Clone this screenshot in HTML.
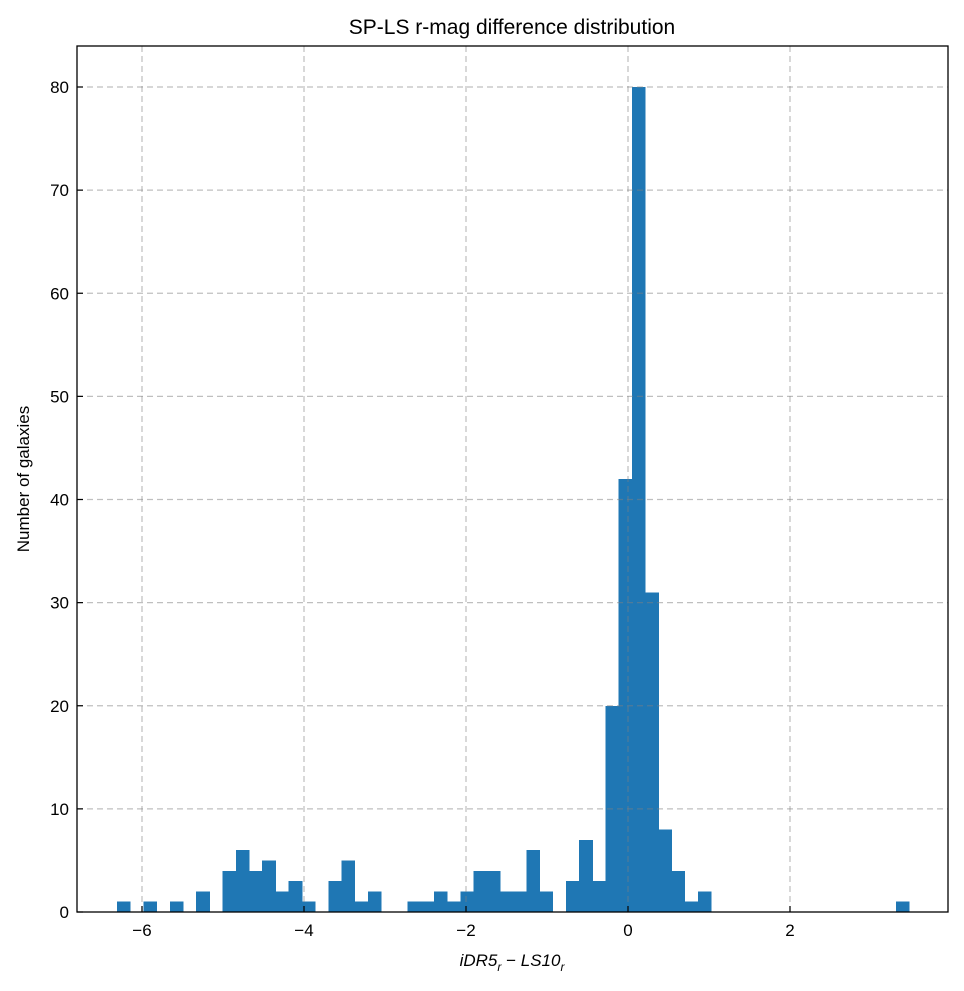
<!DOCTYPE html>
<html><head><meta charset="utf-8"><style>
body{margin:0;background:#fff;}
svg text{font-family:"Liberation Sans","DejaVu Sans",sans-serif;}
</style></head><body>
<svg id="chart" width="964" height="986" xmlns="http://www.w3.org/2000/svg">
<rect width="964" height="986" fill="#fff"/>
<g id="bars" shape-rendering="crispEdges"></g>
<g id="grid"></g>
<g id="axes"></g>
<text x="512" y="34" font-size="21" text-anchor="middle">SP-LS r-mag difference distribution</text>
<text x="512" y="966" font-size="17" text-anchor="middle" font-style="italic">iDR5<tspan font-size="12" dy="5">r</tspan><tspan dy="-5" font-style="normal"> − </tspan>LS10<tspan font-size="12" dy="5">r</tspan></text>
<text transform="translate(29,479) rotate(-90)" font-size="17" text-anchor="middle">Number of galaxies</text>
</svg>
<script>
const binStart = -6.3086;
const binWidth = 0.1630;
const counts = [1,0,1,0,1,0,2,0,4,6,4,5,2,3,1,0,3,5,1,2,0,0,1,1,2,1,2,4,4,2,2,6,2,0,3,7,3,20,42,80,31,8,4,1,2,0,0,0,0,0,0,0,0,0,0,0,0,0,0,1];
const xTicks = [-6,-4,-2,0,2];
const yTicks = [0,10,20,30,40,50,60,70,80];
const L=77,R=948,T=46,B=912;
const xs=v=>628+v*81.0;
const ys=v=>912-v*10.3125;
const NS="http://www.w3.org/2000/svg";
function mk(tag,attrs,parent){const e=document.createElementNS(NS,tag);for(const k in attrs)e.setAttribute(k,attrs[k]);parent.appendChild(e);return e;}
const grid=document.getElementById('grid'),bars=document.getElementById('bars'),axes=document.getElementById('axes');
counts.forEach((c,i)=>{
  if(c<=0)return;
  const x0=xs(binStart+i*binWidth),x1=xs(binStart+(i+1)*binWidth);
  const r=mk('rect',{x:x0,y:ys(c),width:x1-x0+0.5,height:ys(0)-ys(c),fill:'#1f77b4'},bars);
  
  
});
xTicks.forEach(v=>{
  const x=xs(v);
  const g=mk('line',{x1:x,x2:x,y1:T,y2:B,stroke:'#808080','stroke-opacity':0.5,'stroke-dasharray':'6,4','stroke-width':1.2},grid);
  
  
  mk('line',{x1:x,x2:x,y1:B,y2:B-6,stroke:'#000','stroke-width':1.2},axes);
  const t=mk('text',{x:x,y:B+24,'font-size':17,'text-anchor':'middle'},axes);
  t.textContent=v<0?'−'+Math.abs(v):String(v);
  
  
});
yTicks.forEach(v=>{
  const y=ys(v);
  if(v>0){const g=mk('line',{x1:L,x2:R,y1:y,y2:y,stroke:'#808080','stroke-opacity':0.5,'stroke-dasharray':'6,4','stroke-width':1.2},grid);
  
  }
  mk('line',{x1:L,x2:L+6,y1:y,y2:y,stroke:'#000','stroke-width':1.2},axes);
  const t=mk('text',{x:L-8,y:y+6,'font-size':17,'text-anchor':'end'},axes);
  t.textContent=String(v);
  
  
});
const fr=mk('rect',{x:L,y:T,width:R-L,height:B-T,fill:'none',stroke:'#000','stroke-width':1.3},axes);


</script>
</body></html>
